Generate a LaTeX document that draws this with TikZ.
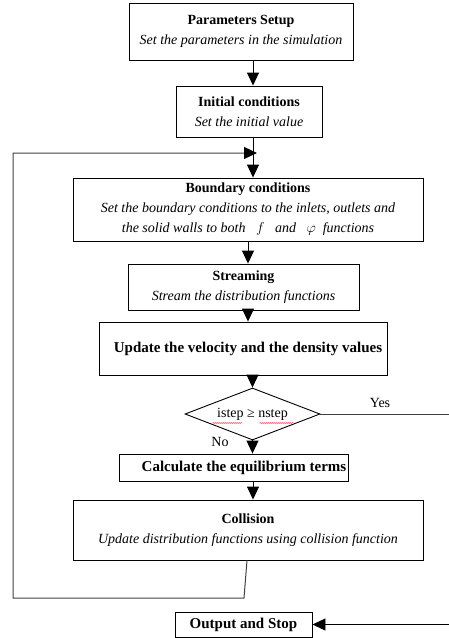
\documentclass[tikz,border=0pt]{standalone}
\usepackage{fontspec}
\setmainfont{Liberation Serif}
\usetikzlibrary{arrows.meta,shapes.geometric,decorations.pathmorphing}

\begin{document}
\begin{tikzpicture}[x=1pt,y=-1pt,
    box/.style={draw,line width=0.9pt,align=center,inner sep=0pt,font=\fontsize{14}{20}\selectfont},
    big/.style={font=\fontsize{15}{20}\selectfont},
    flow/.style={line width=0.9pt,-{Triangle[width=12pt,length=13pt]}},
    back/.style={line width=1pt,draw=black!75}]
    \useasboundingbox (0,0) rectangle (449,638);
    \node[box,minimum width=224pt,minimum height=57pt] (params) at (241,31.5)
        {\textbf{Parameters Setup}\\\textit{Set the parameters in the simulation}};
    \node[box,minimum width=146pt,minimum height=51pt] (init) at (249,111.5)
        {\textbf{Initial conditions}\\\textit{Set the initial value}};
    \node[box,minimum width=350pt,minimum height=63pt] (bound) at (248,209.5)
        {\textbf{Boundary conditions}\\\textit{Set the boundary conditions to the inlets, outlets and}\\
         \textit{the solid walls to both \ \ $f$ \ \ and \ \ $\varphi$ \ functions}};
    \node[box,minimum width=231pt,minimum height=46pt] (stream) at (243.5,287)
        {\textbf{Streaming}\\\textit{Stream the distribution functions}};
    \node[box,big,minimum width=288pt,minimum height=53pt] (update) at (243,348.5)
        {\hspace*{10pt}\textbf{Update the velocity and the density values}};
    \node[box,diamond,aspect=2.6,minimum width=135pt,minimum height=52pt] (check) at (252.5,414)
        {istep ≥ nstep};
    \node[box,big,minimum width=229pt,minimum height=27pt] (calc) at (233.5,467.5)
        {\hspace*{21pt}\textbf{Calculate the equilibrium terms}};
    \node[box,minimum width=350pt,minimum height=60pt] (coll) at (248,530)
        {\textbf{Collision}\\\textit{Update distribution functions using collision function}};
    \node[box,big,minimum width=137pt,minimum height=25pt] (out) at (243.5,624.5)
        {\textbf{Output and Stop}};
    \node[font=\fontsize{14}{16}\selectfont] (yes) at (380,403) {Yes};
    \node[font=\fontsize{14}{16}\selectfont] (no) at (220,442) {No};

    \coordinate (axis) at (253,0);
    \coordinate (axisb) at (248,0);
    \coordinate (loopin) at (257,153);
    \coordinate (bend) at (244,598);
    \coordinate (lowleft) at (13,598);
    \coordinate (upleft) at (13,153);
    \coordinate (yesend) at (449,414);
    \coordinate (outend) at (449,624.5);

    \draw[flow] (params.south -| axis) -- (init.north -| axis);
    \draw[flow] (init.south -| axis) -- (bound.north -| axis);
    \draw[flow] (bound.south -| axisb) -- (stream.north -| axisb);
    \draw[flow] (stream.south -| axisb) -- (update.north -| axisb);
    \draw[flow] (update.south -| check.north) -- (check.north);
    \draw[flow] (check.south) -- (calc.north -| check.south);
    \draw[flow] (calc.south -| axis) -- (coll.north -| axis);
    \draw[back] (check.east) -- (yesend);
    \draw[flow] (outend) -- (out.east);
    \draw[back,-{Triangle[width=12pt,length=13pt,color=black]}] (coll.south -| 247,0) -- (bend) -- (lowleft) -- (upleft) -- (loopin);

    % spell-check marks
    \draw[red,line width=0.4pt,decorate,decoration={snake,amplitude=0.5pt,segment length=2pt}]
        ([xshift=-40pt,yshift=-9pt]check.center) -- ++(30pt,0);
    \draw[red,line width=0.4pt,decorate,decoration={snake,amplitude=0.5pt,segment length=2pt}]
        ([xshift=7pt,yshift=-9pt]check.center) -- ++(34pt,0);
\end{tikzpicture}
\end{document}
